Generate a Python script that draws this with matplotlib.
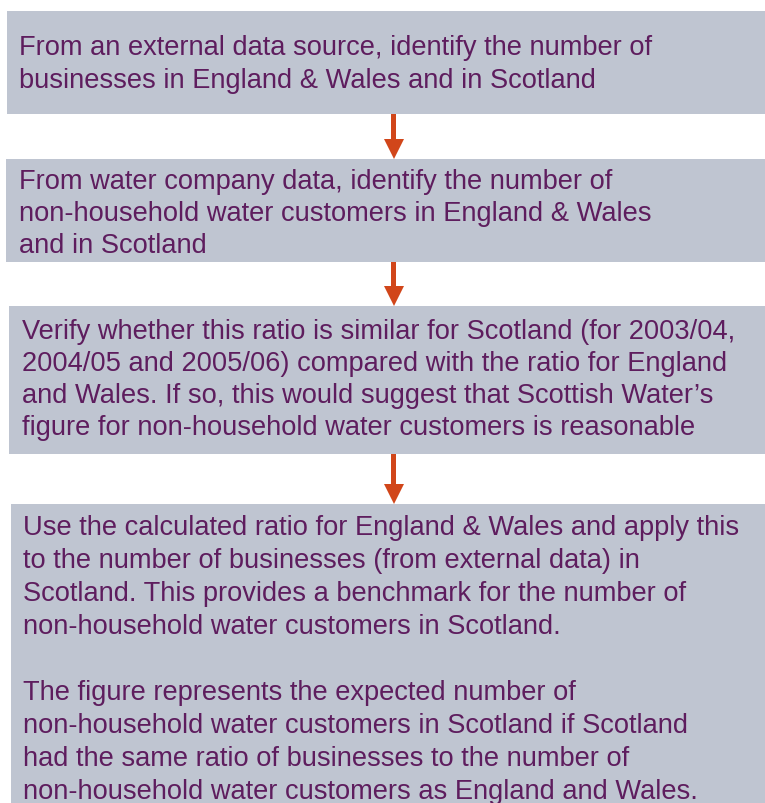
import matplotlib.pyplot as plt
from matplotlib.patches import Rectangle, Polygon

plt.rcParams['font.family'] = ['Liberation Sans', 'DejaVu Sans']

# flowchart steps, top to bottom
steps = [
    ["From an external data source, identify the number of",
     "businesses in England & Wales and in Scotland"],
    ["From water company data, identify the number of",
     "non-household water customers in England & Wales",
     "and in Scotland"],
    ["Verify whether this ratio is similar for Scotland (for 2003/04,",
     "2004/05 and 2005/06) compared with the ratio for England",
     "and Wales. If so, this would suggest that Scottish Water\u2019s",
     "figure for non-household water customers is reasonable"],
    ["Use the calculated ratio for England & Wales and apply this",
     "to the number of businesses (from external data) in",
     "Scotland. This provides a benchmark for the number of",
     "non-household water customers in Scotland.",
     "",
     "The figure represents the expected number of",
     "non-household water customers in Scotland if Scotland",
     "had the same ratio of businesses to the number of",
     "non-household water customers as England and Wales."],
]

# box geometry in pixels (top, bottom, left), text left and first line centre
box_top = [12, 160, 307, 505]
box_bottom = [115, 263, 455, 820]
box_left = [7, 6, 9, 11]
text_left = [19, 19, 22, 23]
first_line = [48, 182, 332, 528]
line_step = [33, 32, 32, 33]

box_col = '#bfc5d1'
text_col = '#5e1d5e'
arrow_col = '#d1461a'
W, H = 765, 804

fig = plt.figure(figsize=(W / 100, H / 100), dpi=100)
ax = fig.add_axes([0, 0, 1, 1])
ax.set_xlim(0, W)
ax.set_ylim(H, 0)
ax.axis('off')

for i, lines in enumerate(steps):
    ax.add_patch(Rectangle((box_left[i], box_top[i]), W - box_left[i] + 5,
                           box_bottom[i] - box_top[i], facecolor=box_col,
                           edgecolor='none'))
    for j, ln in enumerate(lines):
        ax.text(text_left[i], first_line[i] + j * line_step[i], ln,
                fontsize=19.6, color=text_col, va='center', ha='left')

# arrows between boxes
ax_x = 394
for i in range(len(steps) - 1):
    y0 = box_bottom[i]
    y1 = box_top[i + 1]
    ax.add_patch(Rectangle((ax_x - 2.5, y0), 5, (y1 - y0) - 19,
                           facecolor=arrow_col, edgecolor='none'))
    ax.add_patch(Polygon([(ax_x - 10, y1 - 20), (ax_x + 10, y1 - 20), (ax_x, y1)],
                         closed=True, facecolor=arrow_col, edgecolor='none'))

fig.savefig('out.png', dpi=100)
